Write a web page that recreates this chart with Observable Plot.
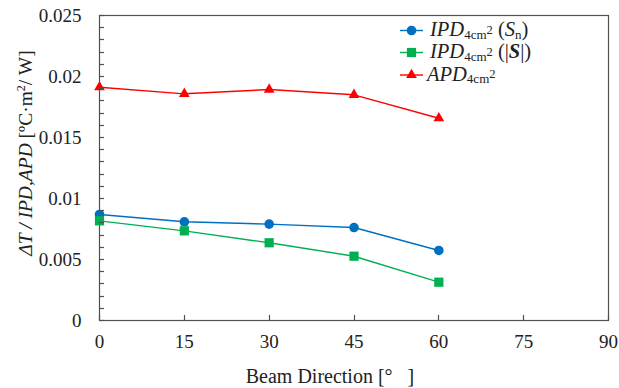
<!DOCTYPE html>
<html>
<head>
<meta charset="utf-8">
<script src="https://cdn.jsdelivr.net/npm/d3@7"></script>
<script src="https://cdn.jsdelivr.net/npm/@observablehq/plot@0.6"></script>
<style>
  body { margin: 0; background: #fff; }
  #chart { position: relative; width: 619px; height: 388px; }
  #chart svg { display: block; }
</style>
</head>
<body>
<div id="chart"></div>
<script>
// Beam direction (degrees) and the three measured series
const angles = [0, 15, 30, 45, 60];
const ipdSn = [0.00869, 0.00809, 0.00790, 0.00762, 0.00574];
const ipdAbsS = [0.00817, 0.00735, 0.00637, 0.00527, 0.00314];
const apd = [0.01912, 0.01858, 0.01893, 0.01850, 0.01658];

// Axis ticks
const xTicks = [0, 15, 30, 45, 60, 75, 90];
const yTicks = [0, 0.005, 0.01, 0.015, 0.02, 0.025];
const yTickLabels = ["0", "0.005", "0.01", "0.015", "0.02", "0.025"];
const yMinorTicks = [0, 0.001, 0.002, 0.003, 0.004, 0.005, 0.006, 0.007, 0.008, 0.009,
  0.010, 0.011, 0.012, 0.013, 0.014, 0.015, 0.016, 0.017, 0.018, 0.019,
  0.020, 0.021, 0.022, 0.023, 0.024, 0.025];

const series = [
  {key: "ipdSn", values: ipdSn, color: "#0070C0", symbol: "circle", r: 4.8},
  {key: "ipdAbsS", values: ipdAbsS, color: "#00B050", symbol: "square", r: 5.2},
  {key: "apd", values: apd, color: "#FF0000", symbol: "triangle", r: 4.0}
];

const rows = series.flatMap(s => angles.map((a, i) => ({series: s.key, angle: a, value: s.values[i]})));

const axisColor = "#505050";
const serif = "'Liberation Serif', 'Times New Roman', serif";

const W = 619, H = 388;
const M = {left: 99, right: 11, top: 15, bottom: 68};
const tickLen = 5;

const marks = [
  Plot.frame({stroke: axisColor, strokeWidth: 1.2}),
  // tick labels
  Plot.axisX({ticks: xTicks, tickSize: 0, tickPadding: 14, label: null, tickFormat: d => String(d)}),
  Plot.axisY({ticks: yTicks, tickSize: 0, tickPadding: 18, label: null,
    tickFormat: d => yTickLabels[yTicks.indexOf(d)]})
];

for (const s of series) {
  const data = rows.filter(d => d.series === s.key);
  marks.push(Plot.line(data, {x: "angle", y: "value", stroke: s.color, strokeWidth: 1.4}));
  marks.push(Plot.dot(data, {x: "angle", y: "value", fill: s.color, symbol: s.symbol, r: s.r}));
}

const chart = Plot.plot({
  width: W,
  height: H,
  marginLeft: M.left,
  marginRight: M.right,
  marginTop: M.top,
  marginBottom: M.bottom,
  style: {fontFamily: serif, fontSize: "19px", color: "#222", background: "#fff", overflow: "visible"},
  x: {domain: [0, 90]},
  y: {domain: [0, 0.025]},
  marks
});

document.getElementById("chart").appendChild(chart);

const svg = d3.select(chart);
const xs = chart.scale("x");
const ys = chart.scale("y");

// Inward-pointing tick marks placed with the plot's own scales
const ticks = svg.append("g");
const x0 = xs.apply(0), y0 = ys.apply(0);
for (const v of yMinorTicks) {
  const y = Math.round(ys.apply(v)) + 0.5;
  ticks.append("path").attr("d", `M${x0},${y}h${tickLen}`)
    .attr("stroke", axisColor).attr("stroke-width", 1.2).attr("fill", "none");
}
for (const v of xTicks) {
  const x = Math.round(xs.apply(v)) + 0.5;
  ticks.append("path").attr("d", `M${x},${y0}v${-tickLen}`)
    .attr("stroke", axisColor).attr("stroke-width", 1.2).attr("fill", "none");
}

// X axis title
svg.append("text")
  .attr("x", 330).attr("y", 383)
  .attr("text-anchor", "middle")
  .attr("font-family", serif).attr("font-size", 20).attr("fill", "#222")
  .text("Beam Direction [°\u00A0\u00A0 ]");

// Y axis title with italic quantity names and a superscript unit
const yl = svg.append("text")
  .attr("transform", "translate(32,153) rotate(-90)")
  .attr("text-anchor", "middle")
  .attr("font-family", serif).attr("font-size", 19.5).attr("fill", "#222");
yl.append("tspan").attr("font-style", "italic").text("ΔT / IPD,APD");
yl.append("tspan").text(" [ºC·m");
yl.append("tspan").attr("font-size", 12).attr("dy", -7).text("2");
yl.append("tspan").attr("dy", 7).text("/ W]");

// Legend
const legend = svg.append("g").attr("font-family", serif).attr("fill", "#222").attr("text-anchor", "start");
const legendRows = [
  {color: "#0070C0", symbol: d3.symbolCircle, size: Math.PI * 4.8 * 4.8, y: 30.5, textX: 430},
  {color: "#00B050", symbol: d3.symbolSquare, size: Math.PI * 5.2 * 5.2, y: 52.5, textX: 430},
  {color: "#FF0000", symbol: d3.symbolTriangle, size: Math.PI * 4.0 * 4.0, y: 75, textX: 427}
];
legendRows.forEach((row, i) => {
  legend.append("line")
    .attr("x1", 400).attr("x2", 423).attr("y1", row.y).attr("y2", row.y)
    .attr("stroke", row.color).attr("stroke-width", 1.4);
  legend.append("path")
    .attr("transform", `translate(411.5,${row.y})`)
    .attr("d", d3.symbol(row.symbol, row.size)())
    .attr("fill", row.color);
  const t = legend.append("text").attr("x", row.textX).attr("y", row.y + 5.5).attr("font-size", 20.5);
  t.append("tspan").attr("font-style", "italic").text(i === 2 ? "APD" : "IPD");
  t.append("tspan").attr("font-size", 13).attr("dy", 2.5).text("4cm");
  t.append("tspan").attr("font-size", 12.5).attr("dy", -5).text("2");
  if (i === 0) {
    t.append("tspan").attr("dy", 2.5).text(" (");
    t.append("tspan").attr("font-style", "italic").text("S");
    t.append("tspan").attr("font-size", 13).attr("dy", 2.5).text("n");
    t.append("tspan").attr("dy", -2.5).text(")");
  } else if (i === 1) {
    t.append("tspan").attr("dy", 2.5).text(" (|");
    t.append("tspan").attr("font-style", "italic").attr("font-weight", "bold").text("S");
    t.append("tspan").text("|)");
  }
});
</script>
</body>
</html>
